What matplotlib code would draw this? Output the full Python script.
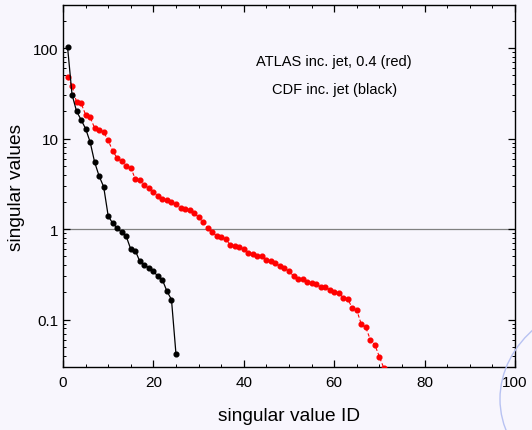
import matplotlib
matplotlib.use("Agg")
import matplotlib.pyplot as plt
from matplotlib.ticker import FixedLocator, MultipleLocator, LogLocator, NullFormatter, FixedFormatter
from matplotlib.patches import Circle

plt.rcParams['font.family'] = ['Liberation Sans', 'DejaVu Sans']

# CDF inclusive jet singular values (black)
cdf_id = list(range(1, 26))
cdf_sv = [104, 30.7, 20.1, 16.2, 12.9, 9.2, 5.5, 3.85, 2.94, 1.40,
          1.16, 1.03, 0.92, 0.83, 0.60, 0.58, 0.44, 0.40, 0.376, 0.345,
          0.30, 0.275, 0.206, 0.167, 0.0416]

# ATLAS inclusive jet, R=0.4 singular values (red)
atlas_id = list(range(1, 72))
atlas_sv = [47.6, 38.5, 25.3, 24.7, 18.4, 17.3, 13.1, 12.6, 11.8, 9.6,
            7.3, 6.1, 5.6, 5.0, 4.8, 3.57, 3.45, 3.07, 2.82, 2.60,
            2.32, 2.14, 2.10, 1.98, 1.90, 1.73, 1.66, 1.63, 1.50, 1.36,
            1.19, 1.03, 0.93, 0.84, 0.82, 0.78, 0.67, 0.65, 0.63, 0.60,
            0.55, 0.53, 0.51, 0.51, 0.46, 0.44, 0.42, 0.39, 0.37, 0.343,
            0.305, 0.283, 0.278, 0.262, 0.255, 0.247, 0.231, 0.227, 0.215, 0.203,
            0.198, 0.175, 0.171, 0.133, 0.127, 0.089, 0.082, 0.060, 0.0527, 0.0389,
            0.029]

x_ticks = [0, 20, 40, 60, 80, 100]
y_ticks = [0.1, 1, 10, 100]
y_tick_labels = ['0.1', '1', '10', '100']

bg = '#f8f6fd'
fig = plt.figure(figsize=(5.32, 4.31), dpi=100, facecolor=bg)
ax = fig.add_axes([0.1184, 0.1462, 0.8496, 0.8399], facecolor=bg)

ax.axhline(1.0, color='#808080', lw=0.9, zorder=1)

ax.plot(atlas_id, atlas_sv, color='#ff0000', lw=0.8, ls=(0, (3, 2)),
        marker='o', ms=3.4, mec='#ff0000', mfc='#ff0000', zorder=3)
ax.plot(cdf_id, cdf_sv, color='#000000', lw=0.9,
        marker='o', ms=3.4, mec='#000000', mfc='#000000', zorder=4)

ax.set_yscale('log')
ax.set_xlim(0, 100)
ax.set_ylim(0.03, 300)

ax.xaxis.set_major_locator(FixedLocator(x_ticks))
ax.xaxis.set_minor_locator(MultipleLocator(5))
ax.yaxis.set_major_locator(FixedLocator(y_ticks))
ax.yaxis.set_major_formatter(FixedFormatter(y_tick_labels))
ax.yaxis.set_minor_locator(LogLocator(base=10, subs=range(2, 10), numticks=20))
ax.yaxis.set_minor_formatter(NullFormatter())

ax.tick_params(which='both', direction='in', top=True, right=True, colors='#000000',
               labelsize=11)
ax.tick_params(which='major', length=5, width=0.9)
ax.tick_params(which='minor', length=2.5, width=0.7)
ax.tick_params(axis='x', which='major', pad=6)
ax.tick_params(axis='y', which='major', pad=3)
for s in ax.spines.values():
    s.set_linewidth(1.0)
    s.set_color('#000000')

ax.set_xlabel('singular value ID', fontsize=13.8, labelpad=13)
ax.set_ylabel('singular values', fontsize=13.8, labelpad=6)

ax.text(0.60, 0.846, 'ATLAS inc. jet, 0.4 (red)', transform=ax.transAxes,
        ha='center', va='center', fontsize=10.5)
ax.text(0.60, 0.768, 'CDF inc. jet (black)', transform=ax.transAxes,
        ha='center', va='center', fontsize=10.5)

# decorative ring in the lower right corner
ring = Circle((627 / 532, 1 - 400 / 431), 127 / 532, transform=fig.transFigure,
              fill=False, ec='#b8c2f2', lw=1.0, zorder=0)
fig.patches.append(ring)

fig.savefig('out.png', dpi=100, facecolor=bg)
